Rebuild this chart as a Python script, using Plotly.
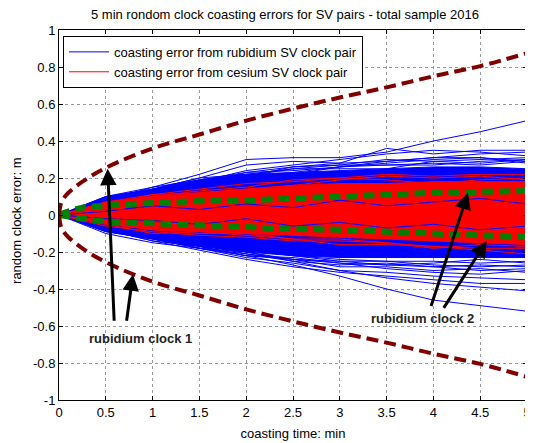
import plotly.graph_objects as go

# ---------------- data ----------------
T = [0, 0.5, 1, 1.5, 2, 2.5, 3, 3.5, 4, 4.5, 5]

# dense core of the rubidium (blue) bundle
blue_core_upper = [0, 0.10, 0.14, 0.19, 0.22, 0.23, 0.24, 0.25, 0.26, 0.26, 0.25]
blue_core_lower = [0, -0.09, -0.13, -0.17, -0.20, -0.22, -0.23, -0.23, -0.23, -0.23, -0.23]

# individual rubidium pair traces (edges / outliers)
blue_lines = [
    [0, 0.08, 0.15, 0.22, 0.30, 0.31, 0.31, 0.34, 0.40, 0.45, 0.51],
    [0, 0.09, 0.14, 0.20, 0.27, 0.29, 0.28, 0.36, 0.33, 0.35, 0.35],
    [0, 0.08, 0.13, 0.18, 0.24, 0.27, 0.30, 0.33, 0.35, 0.34, 0.32],
    [0, 0.06, 0.12, 0.17, 0.23, 0.26, 0.28, 0.29, 0.31, 0.33, 0.34],
    [0, 0.07, 0.11, 0.16, 0.21, 0.25, 0.27, 0.30, 0.29, 0.28, 0.30],
    [0, 0.05, 0.12, 0.18, 0.22, 0.22, 0.26, 0.28, 0.30, 0.31, 0.29],
    [0, 0.08, 0.13, 0.17, 0.20, 0.23, 0.26, 0.27, 0.28, 0.27, 0.29],
    [0, 0.09, 0.14, 0.20, 0.22, 0.25, 0.25, 0.25, 0.29, 0.30, 0.31],
    [0, 0.10, 0.15, 0.19, 0.23, 0.24, 0.26, 0.29, 0.31, 0.31, 0.28],
    [0, 0.07, 0.12, 0.17, 0.21, 0.26, 0.27, 0.27, 0.27, 0.29, 0.30],
    [0, -0.07, -0.12, -0.17, -0.22, -0.27, -0.33, -0.40, -0.46, -0.49, -0.52],
    [0, -0.06, -0.13, -0.18, -0.23, -0.26, -0.30, -0.34, -0.37, -0.39, -0.41],
    [0, -0.08, -0.14, -0.19, -0.24, -0.28, -0.31, -0.33, -0.35, -0.37, -0.37],
    [0, -0.06, -0.12, -0.16, -0.21, -0.25, -0.30, -0.31, -0.33, -0.34, -0.35],
    [0, -0.07, -0.11, -0.18, -0.22, -0.24, -0.26, -0.29, -0.31, -0.32, -0.30],
    [0, -0.05, -0.10, -0.15, -0.20, -0.24, -0.28, -0.28, -0.30, -0.29, -0.31],
    [0, -0.06, -0.12, -0.15, -0.18, -0.22, -0.25, -0.27, -0.28, -0.27, -0.28],
    [0, -0.05, -0.10, -0.16, -0.19, -0.22, -0.24, -0.25, -0.27, -0.28, -0.27],
    [0, -0.09, -0.13, -0.18, -0.21, -0.24, -0.25, -0.25, -0.25, -0.26, -0.25],
    [0, -0.08, -0.14, -0.17, -0.22, -0.23, -0.26, -0.27, -0.26, -0.24, -0.26],
    [0, -0.10, -0.15, -0.18, -0.20, -0.25, -0.27, -0.26, -0.28, -0.30, -0.29],
]

# dense core of the cesium (red) bundle
red_core_upper = [0, 0.07, 0.10, 0.12, 0.14, 0.16, 0.17, 0.17, 0.18, 0.18, 0.18]
red_core_lower = [0, -0.05, -0.08, -0.09, -0.10, -0.11, -0.12, -0.13, -0.14, -0.15, -0.16]

red_lines = [
    [0, 0.07, 0.11, 0.14, 0.17, 0.18, 0.20, 0.22, 0.21, 0.22, 0.22],
    [0, 0.06, 0.10, 0.13, 0.15, 0.19, 0.20, 0.19, 0.17, 0.19, 0.20],
    [0, 0.05, 0.11, 0.12, 0.14, 0.16, 0.19, 0.21, 0.20, 0.21, 0.19],
    [0, -0.06, -0.09, -0.11, -0.12, -0.14, -0.14, -0.15, -0.17, -0.19, -0.21],
    [0, -0.05, -0.10, -0.09, -0.11, -0.13, -0.16, -0.16, -0.17, -0.18, -0.18],
    [0, -0.04, -0.08, -0.10, -0.10, -0.13, -0.13, -0.15, -0.18, -0.16, -0.17],
]

# blue streaks visible through the red core
blue_inner = [
    [0, 0.02, 0.05, 0.03, 0.06, 0.04, 0.08, 0.05, 0.07, 0.09, 0.06],
    [0, -0.02, -0.03, -0.05, -0.02, -0.06, -0.04, -0.07, -0.05, -0.08, -0.06],
]

# green dashed bounds
green_x = [0, 0.25, 0.5, 1, 1.5, 2, 2.5, 3, 3.5, 4, 4.5, 5]
green_upper = [0, 0.04, 0.05, 0.065, 0.075, 0.08, 0.09, 0.10, 0.11, 0.12, 0.125, 0.13]
green_lower = [0, -0.02, -0.035, -0.045, -0.055, -0.065, -0.075, -0.08, -0.09, -0.10, -0.11, -0.115]

# dark red dashed envelope
env_x = [0, 0.02, 0.05, 0.1, 0.25, 0.5, 1, 1.5, 2, 2.5, 3, 3.5, 4, 4.5, 5]
env_upper = [0, 0.06, 0.09, 0.12, 0.18, 0.255, 0.36, 0.435, 0.51, 0.575, 0.635, 0.69, 0.75, 0.805, 0.875]
env_lower = [-v for v in env_upper]

x_ticks = [0, 0.5, 1, 1.5, 2, 2.5, 3, 3.5, 4, 4.5, 5]
x_tick_text = ["0", "0.5", "1", "1.5", "2", "2.5", "3", "3.5", "4", "4.5", "5"]
y_ticks = [-1, -0.8, -0.6, -0.4, -0.2, 0, 0.2, 0.4, 0.6, 0.8, 1]
y_tick_text = ["-1", "-0.8", "-0.6", "-0.4", "-0.2", "0", "0.2", "0.4", "0.6", "0.8", "1"]

# annotations: (tail_x, tail_y, head_x, head_y)
arrows = [
    (0.59, -0.58, 0.52, 0.25),
    (0.72, -0.58, 0.79, -0.32),
    (3.97, -0.50, 4.37, 0.12),
    (4.10, -0.51, 4.57, -0.14),
]
labels = [("rubidium clock 1", 0.87, -0.665), ("rubidium clock 2", 3.88, -0.56)]

BLUE = "#0000FF"
RED = "#FF0000"
GREEN = "#008000"
DARKRED = "#800000"
FONT = "Liberation Sans, Arial, sans-serif"

fig = go.Figure()

# blue core fill
fig.add_trace(go.Scatter(x=T + T[::-1], y=blue_core_upper + blue_core_lower[::-1],
                         fill="toself", fillcolor=BLUE, line=dict(color=BLUE, width=1),
                         mode="lines", showlegend=False, hoverinfo="skip"))
for i, ys in enumerate(blue_lines):
    fig.add_trace(go.Scatter(x=T, y=ys, mode="lines", line=dict(color=BLUE, width=1),
                             name="coasting error from rubidium SV clock pair",
                             showlegend=(i == 0), legendrank=1))
# red core fill
fig.add_trace(go.Scatter(x=T + T[::-1], y=red_core_upper + red_core_lower[::-1],
                         fill="toself", fillcolor=RED, line=dict(color=RED, width=1),
                         mode="lines", showlegend=False, hoverinfo="skip"))
for i, ys in enumerate(red_lines):
    fig.add_trace(go.Scatter(x=T, y=ys, mode="lines", line=dict(color=RED, width=1),
                             name="coasting error from cesium SV clock pair",
                             showlegend=(i == 0), legendrank=2))
for ys in blue_inner:
    fig.add_trace(go.Scatter(x=T, y=ys, mode="lines", line=dict(color=BLUE, width=1),
                             showlegend=False))

for ys in (green_upper, green_lower):
    fig.add_trace(go.Scatter(x=green_x, y=ys, mode="lines", line_shape="spline",
                             line=dict(color=GREEN, width=6, dash="11px,6px"),
                             showlegend=False))
for ys in (env_upper, env_lower):
    fig.add_trace(go.Scatter(x=env_x, y=ys, mode="lines", line_shape="spline",
                             line=dict(color=DARKRED, width=4, dash="12px,6px"),
                             showlegend=False))

annos = []
for tx, ty, hx, hy in arrows:
    annos.append(dict(x=hx, y=hy, ax=tx, ay=ty, xref="x", yref="y", axref="x", ayref="y",
                      showarrow=True, arrowhead=2, arrowsize=1.1, arrowwidth=3,
                      arrowcolor="black", text=""))
for txt, lx, ly in labels:
    annos.append(dict(x=lx, y=ly, xref="x", yref="y", text="<b>%s</b>" % txt,
                      showarrow=False, font=dict(family=FONT, size=13, color="#222222")))
# y-axis title placed as rotated text
annos.append(dict(text="random clock error: m", textangle=-90, showarrow=False,
                  xref="paper", yref="paper", x=-0.0897, y=0.484,
                  xanchor="center", yanchor="middle",
                  font=dict(family=FONT, size=13, color="black")))

axis_common = dict(showline=True, linecolor="black", linewidth=1, mirror="ticks",
                   ticks="inside", ticklen=4, tickcolor="black", automargin=False,
                   showgrid=True, gridcolor="#999999", griddash="dot", gridwidth=1,
                   zeroline=False, tickfont=dict(family=FONT, size=13, color="black"))

# page body adds an 8px margin, so the figure is sized/offset to compensate
fig.update_layout(
    width=525, height=435,
    margin=dict(l=51, r=6, t=22, b=43),
    paper_bgcolor="white", plot_bgcolor="white",
    title=dict(text="5 min rondom clock coasting errors for SV pairs - total sample 2016",
               x=0.5276, xanchor="center", y=0.986, yanchor="middle", yref="container",
               font=dict(family=FONT, size=13, color="black")),
    xaxis=dict(range=[0, 5], tickvals=x_ticks, ticktext=x_tick_text,
               title=dict(text="coasting time: min", standoff=10,
                          font=dict(family=FONT, size=13, color="black")),
               **axis_common),
    yaxis=dict(range=[-1, 1], tickvals=y_ticks, ticktext=y_tick_text,
               **axis_common),
    legend=dict(x=0.0085, y=0.984, xanchor="left", yanchor="top",
                bgcolor="white", bordercolor="black", borderwidth=1,
                font=dict(family=FONT, size=13, color="black"),
                itemwidth=40, tracegroupgap=0),
    annotations=annos,
    showlegend=True,
)

fig.write_html("out.html")
